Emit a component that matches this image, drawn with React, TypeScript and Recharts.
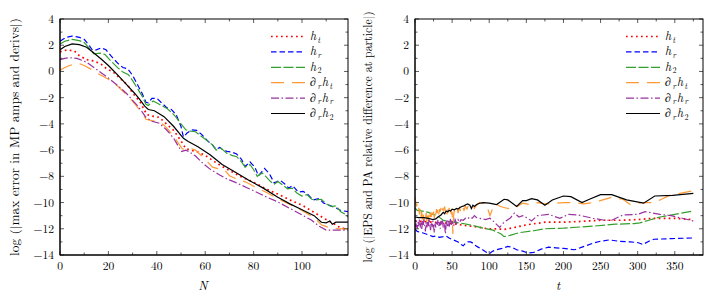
import React from "react";
import { LineChart, Line, XAxis, YAxis } from "recharts";

// ---- left panel: error vs N ----
const nHt = [0,3,6,8,11,14,17,19,22,25,28,30,33,35,36,38,41,44,47,50,52,54,57,60,64,67,71,75,80,85,90,95,100,105,110,113,116,119];
const yHt = [1.5,1.65,1.55,1.2,0.9,0.8,0.55,0.25,-0.05,-0.55,-1.05,-1.65,-2.3,-3.0,-3.3,-3.4,-3.5,-4.0,-4.5,-5.3,-5.9,-6.0,-6.15,-6.4,-6.9,-7.25,-7.65,-8.05,-8.45,-8.95,-9.35,-9.8,-10.2,-10.75,-11.3,-11.6,-11.95,-12.0];

const nHr = [0,2.5,5,8,10,12,13.5,15,17,19,21,24,26,28,30,32,34,35.5,36.5,38,40,42,44,46,48,50,51,52.5,54.5,56.5,58.5,61,63,64.5,66,67.5,69,71,73,75,76.5,78.5,80.5,82,84.5,86.5,88.5,91,93,94.5,96,98.5,100.5,102.5,104.5,107,109,110.5,112.5,114.5,116,119];
const yHr = [2.3,2.6,2.7,2.6,2.45,2.0,1.6,1.65,1.8,1.65,1.2,0.6,0.3,0.2,-0.3,-1.0,-1.7,-2.35,-2.4,-2.05,-2.05,-2.4,-2.75,-2.9,-3.3,-4.2,-5.0,-4.7,-4.45,-4.5,-4.8,-5.3,-5.6,-5.95,-5.8,-6.0,-6.1,-6.15,-6.3,-6.7,-7.25,-6.9,-7.3,-7.95,-7.4,-7.8,-8.5,-8.3,-8.6,-8.9,-8.7,-9.2,-9.15,-9.4,-9.8,-9.7,-10.05,-10.15,-10.3,-10.45,-10.6,-10.7];

const nH2 = [0,2,5,8,10,12,14,16.5,18.5,21,24,26,28.3,30,32,34,35.5,36.5,38.5,41,44,46,48,50,52,54,56,58,61,63,64.5,66.5,69,71,73,75,76.5,78.5,80,81.5,83.5,85,87,88.5,90,92,94,96,98,100,102,104,106,108,110,112,114,116,118,119];
const yH2 = [2.1,2.3,2.45,2.35,2.2,1.8,1.35,1.4,1.3,0.8,0.25,-0.05,-0.25,-0.7,-1.3,-1.9,-2.5,-2.6,-2.25,-2.5,-2.8,-3.1,-3.5,-4.0,-4.45,-4.55,-4.6,-4.9,-5.3,-5.6,-6.0,-5.85,-6.25,-6.4,-6.5,-6.9,-7.3,-7.1,-7.5,-8.0,-7.75,-8.0,-8.4,-8.6,-8.4,-8.65,-8.95,-8.9,-9.3,-9.5,-9.4,-9.75,-9.8,-9.75,-10.1,-10.3,-10.25,-10.7,-10.9,-11.1];

const nDt = [0,2,4,6.5,8,10,13,16,20,24,28,31,33,34.5,35.5,38,41,43,45,47,49,50.5,52,53.5,56,58,61,63,66,68,70,73,77,80,85,90,95,100,104,107,108,111,115,119];
const yDt = [0.1,0.3,0.45,0.6,0.6,0.45,0.15,-0.2,-0.6,-1.15,-1.85,-2.5,-2.95,-3.3,-3.65,-3.75,-3.85,-4.1,-4.5,-4.95,-5.5,-5.9,-5.95,-5.85,-6.0,-6.35,-6.9,-7.3,-7.45,-7.5,-7.95,-8.2,-8.45,-8.75,-9.2,-9.7,-10.15,-10.6,-11.05,-11.5,-11.7,-11.9,-12.0,-12.0];

const nDr = [0,2,4,7,9,11,14,17,20,24,27.6,30,32,34,35.5,38,41,44,47,49,50.3,52,53.5,56,59,62,66,69,73,77,80,85,90,95,100,104,107,110,113,119];
const yDr = [0.9,1.0,1.05,1.0,0.85,0.7,0.3,-0.1,-0.5,-1.1,-1.7,-2.2,-2.6,-3.1,-3.5,-3.8,-3.95,-4.45,-5.1,-5.75,-6.1,-6.0,-6.15,-6.45,-7.0,-7.45,-7.9,-8.2,-8.5,-8.85,-9.1,-9.55,-9.95,-10.45,-10.95,-11.35,-11.8,-12.1,-12.1,-12.1];

const nD2 = [0,2,5,8,11,14,17,20,24,28,31,33,35,36.5,39,43,47,51,53,57,62,67,73,78,84,90,95,100,105,108,110,111.5,112.5,114,119];
const yD2 = [1.65,1.9,2.1,2.05,1.85,1.4,0.95,0.45,-0.3,-1.1,-1.7,-2.15,-2.65,-2.9,-3.0,-3.45,-4.2,-5.1,-5.35,-5.75,-6.35,-7.1,-7.75,-8.3,-8.9,-9.6,-10.1,-10.55,-11.0,-11.5,-11.55,-11.4,-11.65,-11.5,-11.5];

// ---- right panel: EPS vs PA over t ----
const tHt = [0,25,50,56,67,83,98,110,120,130,150,175,200,220,250,280,300,320,350,375];
const rHt = [-11.4,-11.5,-11.6,-11.65,-11.75,-11.85,-12.0,-12.0,-12.05,-11.95,-11.7,-11.5,-11.5,-11.45,-11.35,-11.35,-11.3,-11.2,-11.2,-11.3];

const tHr = [0,3,6,10,15,20,24,28,33,38,42,46,49,54,58,62,65,68,71,75,78,82,85,90,95,100,105,110,117,125,130,137,145,152,160,170,180,190,200,215,225,240,250,262,275,290,300,307,315,322,345,375];
const rHr = [-12.0,-12.2,-12.25,-12.3,-12.4,-12.5,-12.6,-12.55,-12.65,-12.6,-12.55,-12.7,-12.8,-12.9,-13.0,-13.2,-13.3,-13.1,-13.0,-13.0,-13.1,-13.3,-13.4,-13.55,-13.75,-13.9,-13.7,-13.6,-13.5,-13.35,-13.4,-13.6,-13.7,-13.85,-13.8,-13.55,-13.4,-13.45,-13.5,-13.6,-13.4,-13.1,-12.95,-12.85,-12.95,-13.0,-13.05,-13.2,-12.95,-12.8,-12.75,-12.7];

const tH2 = [0,3,10,18,24,30,38,45,51,65,78,92,105,116,120,128,140,160,175,200,240,270,295,303,315,330,350,375];
const rH2 = [-10.4,-10.6,-10.65,-10.75,-10.9,-11.0,-11.35,-11.45,-11.5,-11.6,-11.75,-11.95,-12.1,-12.4,-12.6,-12.5,-12.3,-12.15,-12.0,-11.95,-11.8,-11.65,-11.6,-11.55,-11.35,-11.1,-10.9,-10.65];

const tDt = [0,1,2,3,4,5,6,7,8,9,10,11,12,13,14,15,16,17,18,19,20,21,22,23,24,25,26,27,28,29,30,31,32,33,34,35,36,37,38,40,41,42,43,44,45,46,47,48,49,50,51,52,53,55,57,58,60,62,64,66,68,70,72,75,78,80,83,87,92,97,101,105,109,115,125,135,145,155,165,175,190,200,213,227,242,253,265,280,290,305,323,343,375];
const rDt = [-9.55,-10.0,-10.3,-10.1,-10.6,-10.4,-10.9,-10.5,-11.1,-10.7,-11.3,-10.8,-11.5,-10.9,-11.2,-10.8,-11.6,-11.0,-11.4,-10.9,-11.3,-10.8,-11.1,-10.6,-11.0,-10.7,-11.2,-10.6,-10.9,-10.5,-10.8,-10.4,-10.9,-10.5,-10.7,-10.4,-10.8,-10.5,-10.6,-10.3,-10.8,-10.5,-10.9,-10.6,-10.7,-10.4,-10.8,-10.5,-10.9,-10.7,-12.4,-11.0,-10.6,-10.9,-10.5,-10.8,-10.4,-10.7,-10.3,-10.6,-10.3,-10.5,-10.2,-10.4,-10.3,-10.45,-10.2,-10.0,-10.1,-10.3,-11.0,-10.4,-10.1,-10.3,-10.45,-10.4,-10.05,-10.15,-10.0,-10.1,-10.05,-10.0,-10.0,-10.1,-10.0,-9.8,-9.6,-9.75,-10.15,-10.0,-10.0,-9.45,-9.1];

const tDr = [0,1,2,3,4,5,6,7,8,9,10,11,12,13,14,15,16,17,18,19,20,21,22,23,24,25,26,27,28,29,30,31,32,33,34,35,36,37,38,39,40,41,42,43,44,45,46,47,48,49,50,52,54,56,58,60,62,65,68,71,74,77,80,83,87,95,101,107,114,120,128,134,140,145,152,157,165,180,195,207,220,240,255,265,280,300,310,330,345,360,375];
const rDr = [-11.6,-11.9,-11.4,-12.0,-11.5,-11.8,-11.3,-11.9,-11.5,-12.1,-11.4,-11.8,-11.3,-11.7,-12.2,-11.5,-11.9,-11.4,-11.8,-11.2,-11.7,-12.1,-11.5,-11.9,-11.4,-11.8,-12.3,-11.6,-11.9,-11.4,-11.7,-11.3,-11.8,-11.5,-12.0,-11.4,-11.7,-11.3,-11.9,-11.5,-11.8,-12.4,-11.6,-11.3,-11.8,-11.4,-11.9,-11.5,-11.2,-11.7,-11.4,-11.8,-11.3,-11.6,-11.3,-11.5,-11.3,-11.35,-11.2,-11.25,-11.1,-11.2,-11.0,-11.15,-11.2,-11.3,-11.2,-11.5,-11.9,-11.5,-11.2,-10.8,-11.1,-11.0,-11.2,-11.4,-11.0,-10.9,-11.2,-10.9,-10.95,-11.2,-11.35,-11.35,-10.95,-10.9,-10.7,-10.9,-11.0,-11.2,-11.4];

const tD2 = [0,5,12,18,24,28,31,35,38,40,42,44,46,48,50,53,56,58,60,63,66,69,71,74,76,78,80,83,87,92,100,105,110,120,125,137,145,150,157,165,175,185,200,210,225,235,250,265,285,308,323,347,375];
const rD2 = [-11.1,-11.15,-11.15,-11.2,-11.3,-11.25,-11.1,-10.95,-10.75,-10.85,-10.65,-10.7,-10.6,-10.65,-10.5,-10.55,-10.45,-10.5,-10.4,-10.3,-10.25,-10.15,-10.1,-10.2,-10.45,-10.2,-10.3,-10.15,-10.05,-10.0,-10.05,-10.1,-10.15,-9.75,-9.8,-10.3,-9.85,-9.85,-9.7,-9.8,-10.2,-9.8,-9.5,-9.55,-10.0,-9.75,-9.4,-9.4,-9.8,-10.05,-9.5,-9.45,-9.3];

// ticks
const yTicks = [-14,-13,-12,-11,-10,-9,-8,-7,-6,-5,-4,-3,-2,-1,0,1,2,3,4];
const nTicks = [0,10,20,30,40,50,60,70,80,90,100,110];
const tTicks = [0,25,50,75,100,125,150,175,200,225,250,275,300,325,350,375];

const SERIF = "'Latin Modern Roman', 'CMU Serif', 'Liberation Serif', 'DejaVu Serif', serif";

type Pt = { x: number; y: number };
const zip = (xs: number[], ys: number[]): Pt[] => xs.map((x, i) => ({ x, y: ys[i] }));

const series = [
  { key: "ht", color: "#ff0000", dash: "1.7 3.3", width: 1.7, label: [["h", "t"]] },
  { key: "hr", color: "#0000ff", dash: "5.5 3", width: 1.2, label: [["h", "r"]] },
  { key: "h2", color: "#33a02c", dash: "10 2.5", width: 1.2, label: [["h", "2"]] },
  { key: "dt", color: "#ff9933", dash: "13 8", width: 1.2, label: [["∂", "r"], ["h", "t"]] },
  { key: "dr", color: "#9932a0", dash: "8 2.5 1.5 2.5", width: 1.2, label: [["∂", "r"], ["h", "r"]] },
  { key: "d2", color: "#000000", dash: undefined, width: 1.2, label: [["∂", "r"], ["h", "2"]] },
];

const leftData: Record<string, Pt[]> = {
  ht: zip(nHt, yHt), hr: zip(nHr, yHr), h2: zip(nH2, yH2),
  dt: zip(nDt, yDt), dr: zip(nDr, yDr), d2: zip(nD2, yD2),
};
const rightData: Record<string, Pt[]> = {
  ht: zip(tHt, rHt), hr: zip(tHr, rHr), h2: zip(tH2, rH2),
  dt: zip(tDt, rDt), dr: zip(tDr, rDr), d2: zip(tD2, rD2),
};

const H = 296;
const TOP = 19;
const BOTTOM = 255;
const PLOT_LEFT = 60;

const fmt = (v: number) => (v < 0 ? "\u2212" + Math.abs(v) : String(v));

function makeXTick(majorStep: number) {
  return (props: any) => {
    const { x, payload } = props;
    const v = payload.value as number;
    const major = v % majorStep === 0;
    const len = major ? 4 : 2.5;
    return (
      <g>
        <line x1={x} x2={x} y1={BOTTOM} y2={BOTTOM - len} stroke="#333" strokeWidth={0.8} />
        <line x1={x} x2={x} y1={TOP} y2={TOP + len} stroke="#333" strokeWidth={0.8} />
        {major && (
          <text x={x} y={BOTTOM + 15} textAnchor="middle" fontSize={11.5} fontFamily={SERIF} fill="#000">
            {fmt(v)}
          </text>
        )}
      </g>
    );
  };
}

function makeYTick(right: number) {
  return (props: any) => {
    const { y, payload } = props;
    const v = payload.value as number;
    const major = v % 2 === 0;
    const len = major ? 4 : 2.5;
    return (
      <g>
        <line x1={PLOT_LEFT} x2={PLOT_LEFT + len} y1={y} y2={y} stroke="#333" strokeWidth={0.8} />
        <line x1={right} x2={right - len} y1={y} y2={y} stroke="#333" strokeWidth={0.8} />
        {major && (
          <text x={PLOT_LEFT - 6} y={y + 4} textAnchor="end" fontSize={11.5} fontFamily={SERIF} fill="#000">
            {fmt(v)}
          </text>
        )}
      </g>
    );
  };
}

// each glyph of the legend label as its own text, laid out left to right
function LegendLabel({ parts, x, y }: { parts: string[][]; x: number; y: number }) {
  const out: React.ReactNode[] = [];
  let cx = x;
  parts.forEach(([m, s], i) => {
    out.push(
      <text key={`m${i}`} x={cx} y={y} fontFamily={SERIF} fontSize={12} fontStyle={m === "h" ? "italic" : "normal"} fill="#000">
        {m}
      </text>
    );
    cx += 7.5;
    out.push(
      <text key={`s${i}`} x={cx} y={y + 2.5} fontFamily={SERIF} fontSize={8} fontStyle={s === "2" ? "normal" : "italic"} fill="#000">
        {s}
      </text>
    );
    cx += 4.6;
  });
  return <g>{out}</g>;
}

function Overlay({ yLabel, yLabelX, yLabelLen, xLabel, width, right }: { yLabel: string; yLabelX: number; yLabelLen: number; xLabel: string; width: number; right: number }) {
  return (
    <svg width={width} height={H} style={{ position: "absolute", left: 0, top: 0, pointerEvents: "none" }}>
      <rect x={PLOT_LEFT} y={TOP} width={right - PLOT_LEFT} height={BOTTOM - TOP} fill="none" stroke="#000" strokeWidth={1} />
      <text
        transform={`translate(${yLabelX},137) rotate(-90)`}
        textAnchor="middle"
        fontFamily={SERIF}
        fontSize={12}
        fill="#000"
        textLength={yLabelLen}
        lengthAdjust="spacingAndGlyphs"
      >
        {yLabel}
      </text>
      <text x={203} y={290} textAnchor="middle" fontFamily={SERIF} fontSize={12.5} fontStyle="italic" fill="#000">
        {xLabel}
      </text>
      {series.map((s, i) => {
        const y = 36.5 + i * 15.4;
        return (
          <g key={s.key}>
            <line x1={271} x2={305} y1={y} y2={y} stroke={s.color} strokeWidth={s.width} strokeDasharray={s.dash} />
            <LegendLabel parts={s.label} x={310} y={y + 3.5} />
          </g>
        );
      })}
    </svg>
  );
}

function Panel({ data, domainMax, ticks, majorStep, width, rightMargin }: { data: Record<string, Pt[]>; domainMax: number; ticks: number[]; majorStep: number; width: number; rightMargin: number }) {
  const right = width - rightMargin;
  return (
    <LineChart width={width} height={H} margin={{ top: TOP, right: rightMargin, bottom: H - BOTTOM - 1, left: PLOT_LEFT - 1 }}>
      <XAxis
        dataKey="x"
        type="number"
        domain={[0, domainMax]}
        ticks={ticks}
        interval={0}
        height={1}
        tickSize={0}
        tickMargin={0}
        tickLine={false}
        axisLine={{ stroke: "#000" }}
        tick={makeXTick(majorStep)}
        allowDataOverflow
      />
      <YAxis
        dataKey="y"
        type="number"
        domain={[-14, 4]}
        ticks={yTicks}
        interval={0}
        width={1}
        tickSize={0}
        tickMargin={0}
        tickLine={false}
        axisLine={{ stroke: "#000" }}
        tick={makeYTick(right)}
        allowDataOverflow
      />
      {series.map((s) => (
        <Line
          key={s.key}
          data={data[s.key]}
          dataKey="y"
          type="linear"
          stroke={s.color}
          strokeWidth={s.width}
          strokeDasharray={s.dash}
          dot={false}
          activeDot={false}
          isAnimationActive={false}
        />
      ))}
    </LineChart>
  );
}

export default function App() {
  return (
    <div style={{ position: "absolute", left: 0, top: 0, width: 709, height: H, background: "#fff" }}>
      <div style={{ position: "absolute", left: 0, top: 0, width: 355, height: H }}>
        <Panel data={leftData} domainMax={119} ticks={nTicks} majorStep={20} width={355} rightMargin={7} />
        <Overlay yLabel="log (|max error in MP amps and derivs|)" yLabelX={19} yLabelLen={238} xLabel="N" width={355} right={348} />
      </div>
      <div style={{ position: "absolute", left: 355, top: 0, width: 354, height: H }}>
        <Panel data={rightData} domainMax={388} ticks={tTicks} majorStep={50} width={354} rightMargin={6} />
        <Overlay yLabel="log (|EPS and PA relative difference at particle|)" yLabelX={17} yLabelLen={251} xLabel="t" width={354} right={348} />
      </div>
    </div>
  );
}
